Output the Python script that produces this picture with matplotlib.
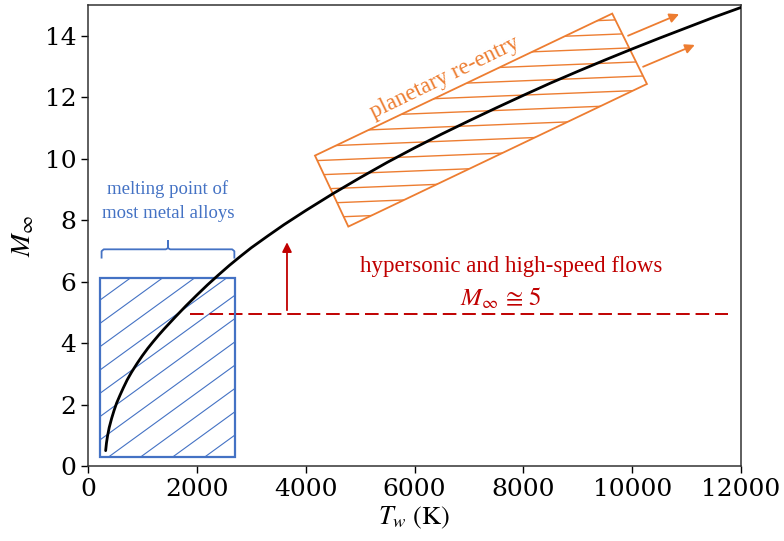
import matplotlib.pyplot as plt
import numpy as np
from matplotlib.patches import Polygon, Rectangle
from matplotlib.collections import LineCollection

plt.rcParams['mathtext.fontset'] = 'stix'

# wall temperature vs free-stream Mach number
tw = [325, 340, 360, 390, 435, 480, 527, 590, 649, 720, 800, 900, 1000, 1100,
      1200, 1300, 1400, 1500, 1600, 1800, 2000, 2200, 2400, 2600, 2800, 3000,
      3300, 3600, 4000, 4500, 5000, 5500, 6000, 6500, 7000, 7500, 8000, 8500,
      9000, 9500, 10000, 10500, 11000, 11500, 12000]
mach = [0.5, 0.75, 0.98, 1.25, 1.55, 1.81, 2.05, 2.31, 2.54, 2.8, 3.05, 3.33,
        3.59, 3.83, 4.05, 4.26, 4.46, 4.65, 4.84, 5.21, 5.56, 5.9, 6.22, 6.53,
        6.82, 7.1, 7.48, 7.85, 8.31, 8.86, 9.38, 9.88, 10.35, 10.8, 11.23, 11.65,
        12.06, 12.46, 12.84, 13.21, 13.57, 13.92, 14.26, 14.6, 14.92]

xticks = [0, 2000, 4000, 6000, 8000, 10000, 12000]
yticks = [0, 2, 4, 6, 8, 10, 12, 14]

# annotated regions
melt_box = (230, 0.3, 2710, 6.13)            # x0, y0, x1, y1
reentry_box = [(4171, 10.10), (9633, 14.72), (10271, 12.43), (4784, 7.79)]
hyper_mach = 4.93
hyper_span = (1874, 11760)

blue = '#4472C4'
orange = '#ED7D31'
red = '#C00000'
serif = 'Liberation Serif'

fig = plt.figure(figsize=(7.84, 5.41), dpi=100)
ax = fig.add_axes([0.1122, 0.1386, 0.8330, 0.8522])
ax.set_xlim(0, 12000)
ax.set_ylim(0, 15)

ax.plot(tw, mach, color='black', lw=2.0, zorder=5, solid_capstyle='round',
        solid_joinstyle='round')

# pixel scale of the data coords, used for hatch angles / spacing
p0 = ax.transData.transform((0, 0))
p1 = ax.transData.transform((1000, 1))
sx = (p1[0] - p0[0]) / 1000.0   # px per K
sy = p1[1] - p0[1]              # px per Mach


def hatch(patch, ang_deg, spacing_px, ref_pt, color, lw, xr, n=40):
    slope = np.tan(np.radians(ang_deg)) * sx / sy
    dy = spacing_px / sy
    segs = []
    for k in range(-n, n):
        c = ref_pt[1] + k * dy
        segs.append([(xr[0], c + slope * (xr[0] - ref_pt[0])),
                     (xr[1], c + slope * (xr[1] - ref_pt[0]))])
    lc = LineCollection(segs, colors=color, linewidths=lw)
    ax.add_collection(lc)
    lc.set_clip_path(patch)


# melting point box
x0, y0, x1, y1 = melt_box
rect = Rectangle((x0, y0), x1 - x0, y1 - y0, fill=False, ec=blue, lw=1.6, zorder=3)
ax.add_patch(rect)
hatch(rect, 36, 23.3, (x0, 5.41), blue, 0.8, (x0, x1))

# brace + label
by = 7.05
bh = 0.27
xm = (x0 + x1) / 2
ax.plot([x0 + 20, x0 + 20, x0 + 60, xm - 40, xm, xm, xm, xm + 40, x1 - 60, x1 - 20, x1 - 20],
        [by - bh, by - 0.06, by, by, by + 0.04, by + bh, by + 0.04, by, by, by - 0.06, by - bh],
        color=blue, lw=1.3)
ax.text(xm, 8.62, 'melting point of\nmost metal alloys', color=blue, fontsize=13.5,
        family=serif, ha='center', va='center', linespacing=1.6)

# re-entry box
poly = Polygon(reentry_box, closed=True, fill=False, ec=orange, lw=1.3, zorder=3)
ax.add_patch(poly)
hatch(poly, 2.3, 14.3, (4245, 9.94), orange, 1.0, (4000, 10500))
ax.text(6561, 12.63, 'planetary re-entry', color=orange, fontsize=16.5, family=serif,
        ha='center', va='center', rotation=26, rotation_mode='anchor')
for a, b in [((9924, 14.0), (10861, 14.70)), ((10200, 12.99), (11150, 13.70))]:
    ax.annotate('', xy=b, xytext=a,
                arrowprops=dict(arrowstyle='-|>', color=orange, lw=1.3,
                                mutation_scale=14, shrinkA=0, shrinkB=0))

# hypersonic threshold
ax.plot(hyper_span, [hyper_mach, hyper_mach], color=red, lw=1.4, dashes=(7, 3))
ax.annotate('', xy=(3657, 7.28), xytext=(3657, 5.07),
            arrowprops=dict(arrowstyle='-|>', color=red, lw=1.3,
                            mutation_scale=14, shrinkA=0, shrinkB=0))
ax.text(7773, 6.5, 'hypersonic and high-speed flows', color=red, fontsize=16.5,
        family=serif, ha='center', va='center')
ax.text(7580, 5.45, r'$M_{\infty}\,\cong\,5$', color=red, fontsize=18,
        ha='center', va='center')

ax.set_xticks(xticks)
ax.set_yticks(yticks)
ax.tick_params(labelsize=18, length=5, width=1, direction='out')
for lab in ax.get_xticklabels() + ax.get_yticklabels():
    lab.set_family('DejaVu Serif')
for s in ax.spines.values():
    s.set_color('#333333')
    s.set_linewidth(1.1)

ax.set_xlabel(r'$T_w$ (K)', fontsize=19, family='STIXGeneral', labelpad=3)
ax.set_ylabel(r'$M_{\infty}$', fontsize=20, labelpad=6)

fig.savefig('out.png', dpi=100)
